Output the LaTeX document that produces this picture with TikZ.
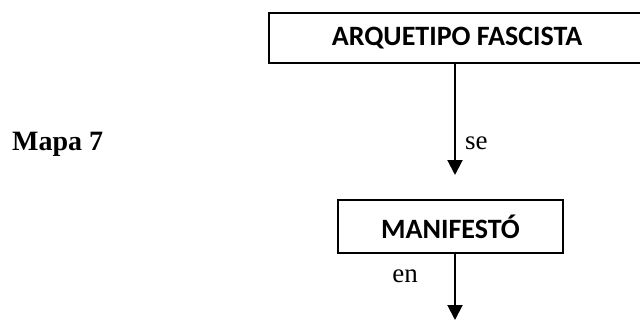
\documentclass[tikz,border=0pt]{standalone}
\usepackage{fontspec}
\setmainfont{Liberation Serif}
\newfontfamily\boxfont{Carlito}
\usetikzlibrary{arrows.meta}
\tikzset{
  conceptbox/.style={draw=black, line width=2.4pt, inner sep=0pt, fill=white,
    font=\boxfont\bfseries\fontsize{28}{30}\selectfont},
  linkarrow/.style={line width=2pt, -{Triangle[width=15pt,length=15pt]}},
  linklabel/.style={inner sep=0pt, font=\fontsize{27}{29}\selectfont},
  titlelabel/.style={inner sep=0pt, font=\bfseries\fontsize{28}{30}\selectfont}
}
\begin{document}
\begin{tikzpicture}[x=1pt,y=-1pt]
\useasboundingbox[fill=white] (0,0) rectangle (640,321);
\clip (0,0) rectangle (640,321);
\node[conceptbox, minimum width=376pt, minimum height=50pt] (a) at (457,38) {ARQUETIPO FASCISTA};
\node[conceptbox, minimum width=225pt, minimum height=53pt] (b) at (450.5,226.5) {MANIFESTÓ};
\coordinate (t1) at (455,175);
\coordinate (t2) at (455,320);
\draw[linkarrow] (a.south -| t1) -- (t1);
\draw[linkarrow] (b.south -| t2) -- (t2);
\node[linklabel, anchor=base west] (se) at (465,149) {se};
\node[linklabel, anchor=base east] (en) at (418,282) {en};
\node[titlelabel, anchor=base west] (mapa) at (12,150) {Mapa 7};
\end{tikzpicture}
\end{document}
